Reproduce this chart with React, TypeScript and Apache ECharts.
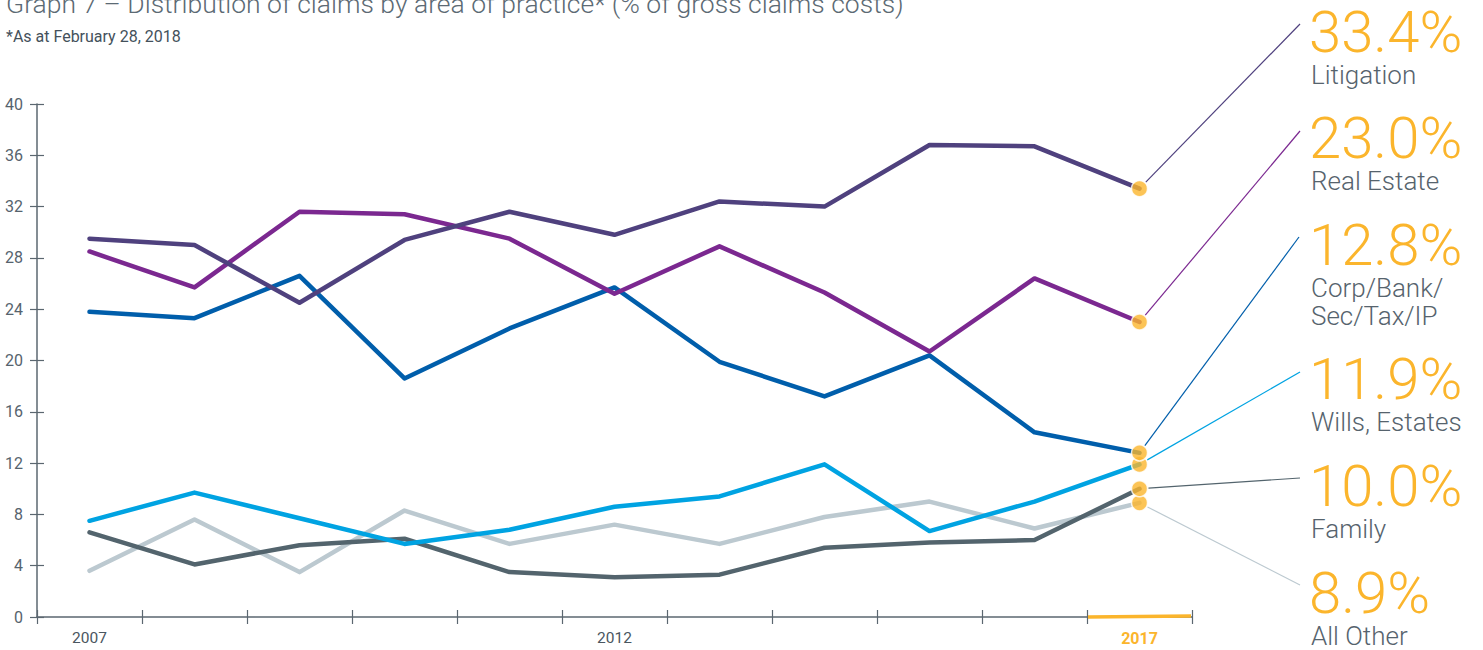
import React, { useEffect, useRef } from "react";
import * as echarts from "echarts";

const years = ["2007", "2008", "2009", "2010", "2011", "2012", "2013", "2014", "2015", "2016", "2017"];
const litigation = [29.5, 29.0, 24.5, 29.4, 31.6, 29.8, 32.4, 32.0, 36.8, 36.7, 33.4];
const realEstate = [28.5, 25.7, 31.6, 31.4, 29.5, 25.2, 28.9, 25.3, 20.7, 26.4, 23.0];
const corpBank = [23.8, 23.3, 26.6, 18.6, 22.5, 25.7, 19.9, 17.2, 20.4, 14.4, 12.8];
const wills = [7.5, 9.7, 7.7, 5.7, 6.8, 8.6, 9.4, 11.9, 6.7, 9.0, 11.9];
const family = [6.6, 4.1, 5.6, 6.1, 3.5, 3.1, 3.3, 5.4, 5.8, 6.0, 10.0];
const allOther = [3.6, 7.6, 3.5, 8.3, 5.7, 7.2, 5.7, 7.8, 9.0, 6.9, 8.9];
const yTicks = [0, 40, 4];
const shownYears = ["2007", "2012", "2017"];

const seriesDefs = [
  { name: "All Other", lines: ["All Other"], data: allOther, color: "#bcc9d0", labelY: 593, end: [1300, 585] },
  { name: "Family", lines: ["Family"], data: family, color: "#53646d", labelY: 486, end: [1300, 478] },
  { name: "Wills, Estates", lines: ["Wills, Estates"], data: wills, color: "#00a3e2", labelY: 379, end: [1300, 372] },
  { name: "Corp/Bank/Sec/Tax/IP", lines: ["Corp/Bank/", "Sec/Tax/IP"], data: corpBank, color: "#005eab", labelY: 245, end: [1299, 237] },
  { name: "Real Estate", lines: ["Real Estate"], data: realEstate, color: "#7b2890", labelY: 138, end: [1300, 131] },
  { name: "Litigation", lines: ["Litigation"], data: litigation, color: "#4f417e", labelY: 32, end: [1300, 24] },
];

const dotOrder = ["Wills, Estates", "Corp/Bank/Sec/Tax/IP", "All Other", "Family", "Real Estate", "Litigation"];

const YELLOW = "#fbb52c";
const AXIS = "#5b6770";
const TEXT = "#56636d";

export default function App() {
  const ref = useRef<HTMLDivElement>(null);
  useEffect(() => {
    if (!ref.current) return;
    const chart = echarts.init(ref.current, null, { renderer: "svg" });
    const lastIdx = years.length - 1;
    const option: any = {
      animation: false,
      backgroundColor: "#ffffff",
      textStyle: { fontFamily: "Roboto" },
      grid: { left: 37, right: 291, top: 104, bottom: 33, containLabel: false },
      xAxis: [
        {
          type: "category",
          data: years,
          boundaryGap: true,
          axisLine: { show: true, lineStyle: { color: AXIS, width: 1.5 } },
          axisTick: { show: true, interval: 0, length: 7, lineStyle: { color: AXIS, width: 1.2 } },
          axisLabel: {
            interval: 0,
            margin: 13,
            color: "#4a5660",
            fontSize: 15.5,
            fontFamily: "Roboto",
            formatter: (v: string) => (v === "2017" ? "{hl|" + v + "}" : shownYears.includes(v) ? v : ""),
            rich: { hl: { color: YELLOW, fontWeight: "bold", fontSize: 16, fontFamily: "Roboto" } },
          },
          splitLine: { show: false },
        },
        {
          type: "category",
          data: years,
          position: "bottom",
          boundaryGap: true,
          axisLine: { show: false },
          axisTick: { show: true, inside: true, interval: 0, length: 7, lineStyle: { color: AXIS, width: 1.2 } },
          axisLabel: { show: false },
          splitLine: { show: false },
        },
      ],
      yAxis: [
        {
          type: "value",
          min: yTicks[0],
          max: yTicks[1],
          interval: yTicks[2],
          axisLine: { show: true, lineStyle: { color: AXIS, width: 1.5 } },
          axisTick: { show: true, length: 7, lineStyle: { color: AXIS, width: 1.2 } },
          axisLabel: { margin: 14, color: TEXT, fontSize: 16, fontFamily: "Roboto" },
          splitLine: { show: false },
        },
        {
          type: "value",
          min: yTicks[0],
          max: yTicks[1],
          interval: yTicks[2],
          position: "left",
          axisLine: { show: false },
          axisTick: { show: true, inside: true, length: 7, lineStyle: { color: AXIS, width: 1.2 } },
          axisLabel: { show: false },
          splitLine: { show: false },
        },
      ],
      series: [
        ...seriesDefs.map((s, i) => ({
          name: s.name,
          type: "line",
          data: s.data,
          symbol: "none",
          z: 2 + i,
          lineStyle: { color: s.color, width: 4.5, cap: "round", join: "round" },
        })),
        {
          type: "scatter",
          z: 20,
          symbol: "circle",
          symbolSize: 16,
          itemStyle: { color: YELLOW, borderColor: "#ffffff", borderWidth: 1.5 },
          data: dotOrder.map((n) => {
            const s = seriesDefs.find((d) => d.name === n)!;
            return [years[lastIdx], s.data[lastIdx]];
          }),
        },
      ],
    };
    chart.setOption(option);

    const px = (cat: string, v: number) => chart.convertToPixel({ xAxisIndex: 0, yAxisIndex: 0 }, [cat, v]) as number[];
    const graphics: any[] = [];

    graphics.push({
      type: "text",
      left: 6,
      top: -10,
      z: 50,
      style: {
        text: "Graph 7 – Distribution of claims by area of practice* (% of gross claims costs)",
        fontFamily: "Roboto",
        fontWeight: 300,
        fontSize: 26.5,
        fill: "#5c6a74",
      },
    });
    graphics.push({
      type: "text",
      left: 6,
      top: 28,
      z: 50,
      style: { text: "*As at February 28, 2018", fontFamily: "Roboto", fontSize: 16, fill: "#44515b" },
    });

    const p16 = px(years[lastIdx - 1], 0);
    const p17 = px(years[lastIdx], 0);
    const band = p17[0] - p16[0];
    graphics.push({
      type: "line",
      z: 30,
      shape: { x1: p17[0] - band / 2 + 1, y1: p17[1], x2: p17[0] + band / 2 - 1, y2: p17[1] - 1 },
      style: { stroke: YELLOW, lineWidth: 3.5 },
    });

    seriesDefs.forEach((s) => {
      const v = s.data[lastIdx];
      const p = px(years[lastIdx], v);
      const dx = s.end[0] - p[0];
      const dy = s.end[1] - p[1];
      const len = Math.sqrt(dx * dx + dy * dy);
      const off = 9;
      graphics.push({
        type: "line",
        z: 25,
        shape: { x1: p[0] + (dx / len) * off, y1: p[1] + (dy / len) * off, x2: s.end[0], y2: s.end[1] },
        style: { stroke: s.color, lineWidth: 1.2 },
      });
      graphics.push({
        type: "text",
        x: 1309,
        y: s.labelY,
        z: 40,
        style: {
          text: v.toFixed(1) + "%",
          fontFamily: "Roboto",
          fontWeight: 300,
          fontSize: 58,
          lineHeight: 46,
          fill: YELLOW,
          verticalAlign: "middle",
          align: "left",
        },
      });
      s.lines.forEach((ln, k) => {
        graphics.push({
          type: "text",
          x: 1311,
          y: s.labelY + 43 + k * 28,
          z: 40,
          style: {
            text: ln,
            fontFamily: "Roboto",
            fontWeight: 300,
            fontSize: 26,
            lineHeight: 26,
            fill: TEXT,
            verticalAlign: "middle",
            align: "left",
          },
        });
      });
    });

    chart.setOption({ graphic: graphics });
    return () => chart.dispose();
  }, []);
  return <div ref={ref} style={{ position: "absolute", left: 0, top: 0, width: 1483, height: 650 }} />;
}
